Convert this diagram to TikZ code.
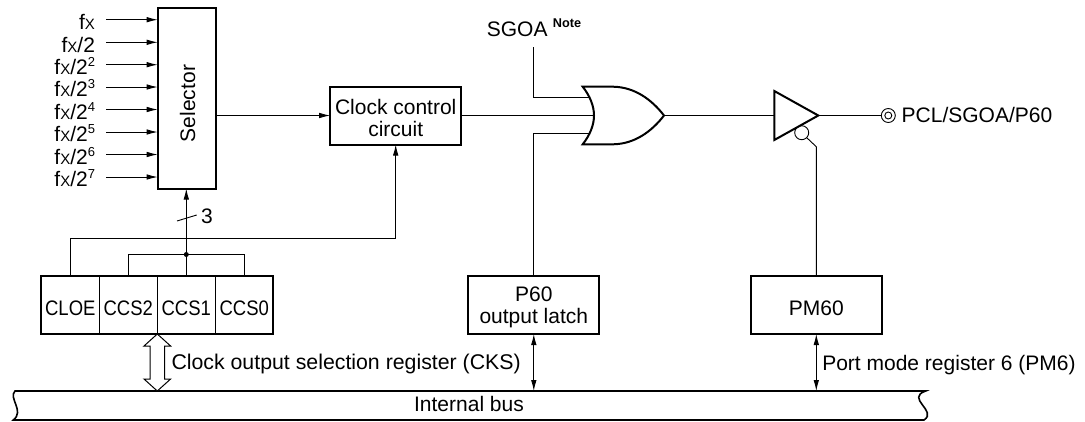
\documentclass[tikz,border=0pt]{standalone}
\usepackage{fontspec}
\setmainfont{Liberation Sans}
\usetikzlibrary{arrows.meta}
\newcommand{\bodyfs}{\fontsize{21}{23}\selectfont}
\newcommand{\fxtxt}{f{\fontsize{15}{15}\selectfont X}}
\newcommand{\supd}[1]{\raisebox{8pt}{\fontsize{13}{13}\selectfont #1}}
\newcommand{\cond}[1]{\scalebox{0.88}[1]{#1}}
\tikzset{
  x=1pt,y=-1pt,
  wire/.style={line width=0.9pt,black},
  sig/.style={wire,-{Latex[length=11pt,width=5.5pt]}},
  bidir/.style={wire,{Latex[length=11pt,width=5.5pt]}-{Latex[length=11pt,width=5.5pt]}},
  boxed/.style={draw,line width=2pt,fill=white,inner sep=0pt,outer sep=0pt,align=center},
  gateline/.style={line width=2pt,fill=white,line join=miter},
  lbl/.style={inner sep=0pt,outer sep=0pt,font=\bodyfs},
  cell/.style={draw,line width=0.9pt,inner sep=0pt,outer sep=0pt,minimum width=58pt,minimum height=58pt,text height=20.6pt,text depth=0pt,font=\bodyfs},
  hollow/.style={line width=1pt,fill=white,line join=miter},
  buswall/.style={line width=1.6pt,fill=white}
}
\begin{document}
\begin{tikzpicture}
\useasboundingbox (0,0) rectangle (1085,421);
% internal bus
\draw[buswall] (15,391) -- (925.7,391) .. controls (905,398) and (938,411) .. (924,420) -- (13.3,420) .. controls (25,411) and (8,398) .. (15,391) -- cycle;
\node[inner sep=0pt,outer sep=0pt,minimum width=911pt,minimum height=29pt] (bus) at (470,405.5) {};
\node[lbl,anchor=base] (bustxt) at (469,411.7) {Internal bus};
% selector
\node[boxed,minimum width=58pt,minimum height=181pt] (sel) at (186.7,98) {};
\node[lbl,rotate=90] (seltxt) at (187.5,103.5) {Selector};
% selector inputs
\foreach \i/\y/\t in {0/19.7/{\fxtxt},1/42.3/{\fxtxt/2},2/64.7/{\fxtxt/2\supd{2}},3/87/{\fxtxt/2\supd{3}},4/109.5/{\fxtxt/2\supd{4}},5/132/{\fxtxt/2\supd{5}},6/154.5/{\fxtxt/2\supd{6}},7/177/{\fxtxt/2\supd{7}}}{
  \coordinate (i\i) at (106.3,\y);
  \node[lbl,anchor=base east] (f\i) at (95,\y+9.7) {\t};
  \draw[sig] (i\i) -- (i\i -| sel.west);
}
% clock control
\node[boxed,minimum width=131pt,minimum height=58pt] (clk) at (395.7,115.5) {};
\node[lbl,anchor=base] (clk1) at (395.7,114) {Clock control};
\node[lbl,anchor=base] (clk2) at (395.7,136) {circuit};
\draw[sig] (clk.west -| sel.east) -- (clk.west);
% register
\node[cell] (c0) at (70.3,305) {\cond{CLOE}};
\node[cell,anchor=west] (c1) at (c0.east) {\cond{CCS2}};
\node[cell,anchor=west] (c2) at (c1.east) {\cond{CCS1}};
\node[cell,anchor=west] (c3) at (c2.east) {\cond{CCS0}};
\draw[line width=2pt] (c0.north west) rectangle (c3.south east);
% register wiring
\coordinate (cb) at (clk.south |- 0,238.7);
\draw[sig] (c0.north) |- (cb) -- (clk.south);
\coordinate (jn) at (c2.north |- 0,254.5);
\draw[wire] (c1.north) |- (jn) -| (c3.north);
\draw[wire] (c2.north) -- (jn);
\draw[sig] (jn) -- (jn |- sel.south);
\node[circle,fill=black,inner sep=0pt,minimum size=5pt] (dot) at (jn) {};
\coordinate (sl1) at (177,221);
\coordinate (sl2) at (196.7,215);
\draw[wire] (sl1) -- (sl2);
\node[lbl,anchor=base] (three) at (207,223.3) {3};
% hollow double arrow
\coordinate (rs) at (c1.south east);
\draw[hollow] (rs) -- ++(-13.3,12) -- ++(6,0) -- ++(0,33) -- ++(-6,0) -- ++(13.3,12) -- ++(13.3,-12) -- ++(-6,0) -- ++(0,-33) -- ++(6,0) -- cycle;
\node[lbl,anchor=base west,font=\fontsize{21.3}{23}\selectfont] (cks) at (171.5,369.7) {Clock output selection register (CKS)};
% OR gate
\coordinate (orw) at (594,115.5);
\coordinate (ora) at (591,97.7);
\coordinate (orb) at (591,133.3);
\coordinate (orout) at (664,115.5);
\node[boxed,minimum width=131pt,minimum height=58pt] (p60) at (533.8,305) {};
\node[lbl,anchor=base] (p601) at (533.8,301.7) {P60};
\node[lbl,anchor=base] (p602) at (533.8,323.3) {output latch};
\node[lbl,anchor=base] (sgoa) at (517.2,36) {SGOA};
\node[inner sep=0pt,anchor=base west,font=\fontsize{12.7}{14}\selectfont\bfseries] (note) at (552.7,27.3) {Note};
\coordinate (sgtop) at (p60.north |- 0,47);
\draw[wire] (sgtop) |- (ora);
\draw[wire] (p60.north) |- (orb);
\draw[wire] (clk.east) -- (orw);
\draw[gateline] (582.7,86.7) -- (613,86.7) .. controls (635,87) and (652,100) .. (orout) .. controls (652,131) and (635,144) .. (613,144.3) -- (582.7,144.3) .. controls (590,135) and (594,125) .. (orw) .. controls (594,106) and (590,96) .. (582.7,86.7) -- cycle;
% P60 to bus
\draw[bidir] (p60.south) -- (p60.south |- bus.north);
% tri-state buffer
\node[boxed,minimum width=131pt,minimum height=58pt] (pm) at (816.3,305) {};
\node[lbl,anchor=base] (pmtxt) at (816.3,315) {PM60};
\node[circle,draw,line width=0.9pt,fill=white,inner sep=0pt,outer sep=0pt,minimum size=14pt] (bub) at (801.7,132.7) {};
\coordinate (bend) at (pm.north |- 0,146.7);
\draw[wire] (bub.-45) -- (bend) -- (pm.north);
\coordinate (bufin) at (774.3,115.5);
\coordinate (buftip) at (818.3,115.5);
\draw[wire] (orout) -- (bufin);
\draw[gateline] (774.3,91) -- (buftip) -- (774.3,140) -- cycle;
% output terminal
\node[circle,draw,line width=0.9pt,inner sep=0pt,outer sep=0pt,minimum size=14pt] (term) at (888.3,115.5) {};
\node[circle,draw,line width=0.9pt,inner sep=0pt,outer sep=0pt,minimum size=7pt] (termi) at (term.center) {};
\draw[wire] (buftip) -- (term.west);
\node[lbl,anchor=base west] (pcl) at (901.7,122.5) {PCL/SGOA/P60};
% PM60 to bus
\draw[bidir] (pm.south) -- (pm.south |- bus.north);
\node[lbl,anchor=base west] (pm6) at (822.3,370) {Port mode register 6 (PM6)};
\end{tikzpicture}
\end{document}
